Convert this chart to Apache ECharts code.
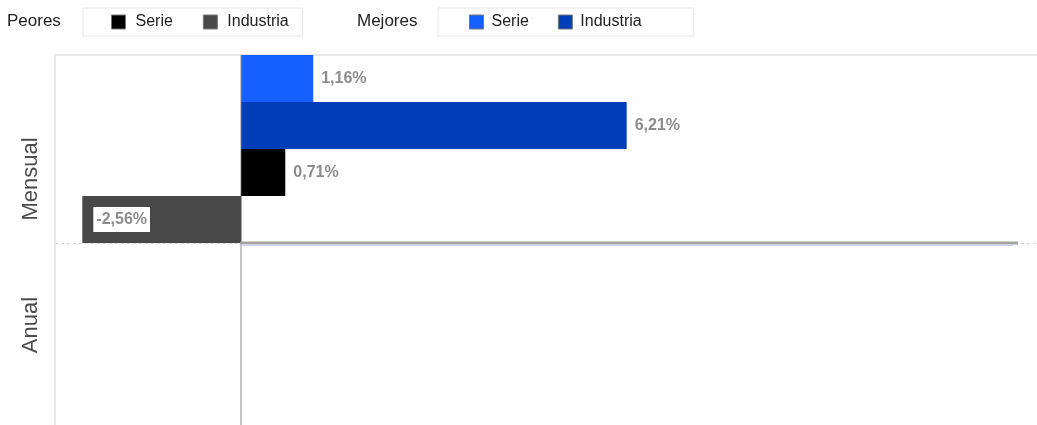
<!DOCTYPE html>
<html>
<head>
<meta charset="utf-8">
<script src="https://cdn.jsdelivr.net/npm/echarts@6/dist/echarts.min.js"></script>
<style>
  html, body { margin: 0; padding: 0; background: #fff; overflow: hidden; }
  #chart { width: 1037px; height: 440px; }
</style>
</head>
<body>
<div id="chart"></div>
<script>
// ---- data ----
const categories = ['Mensual', 'Anual'];
const mejoresSerie = [1.16, null];
const mejoresIndustria = [6.21, null];
const peoresSerie = [0.71, null];
const peoresIndustria = [-2.56, null];
const seriesNames = ['Mejores Serie', 'Mejores Industria', 'Peores Serie', 'Peores Industria'];
const groupTitles = ['Peores', 'Mejores'];

const FONT = '"Liberation Sans", Arial, sans-serif';
const colors = {
  'Mejores Serie': '#1560ff',
  'Mejores Industria': '#003db8',
  'Peores Serie': '#000000',
  'Peores Industria': '#484848'
};
const fmt = p => p.value.toFixed(2).replace('.', ',') + '%';

const chart = echarts.init(document.getElementById('chart'), null, { renderer: 'canvas' });

function barSeries(name, data) {
  return {
    name: name,
    type: 'bar',
    data: data,
    barGap: '0%',
    barCategoryGap: '0%',
    itemStyle: { color: colors[name] },
    label: {
      show: true,
      position: 'right',
      distance: 8,
      formatter: fmt,
      fontFamily: FONT,
      fontSize: 16,
      fontWeight: 'bold',
      color: '#8c8c8c'
    },
    emphasis: { disabled: true }
  };
}

const sMejSerie = barSeries(seriesNames[0], mejoresSerie);
const sMejInd = barSeries(seriesNames[1], mejoresIndustria);
const sPeoSerie = barSeries(seriesNames[2], peoresSerie);
const sPeoInd = barSeries(seriesNames[3], peoresIndustria);
sPeoInd.label = Object.assign({}, sPeoInd.label, {
  position: 'insideLeft',
  distance: 11,
  backgroundColor: '#ffffff',
  padding: [5, 3, 4, 3]
});
// zero line
sMejSerie.markLine = {
  silent: true,
  symbol: 'none',
  label: { show: false },
  lineStyle: { color: '#c4c4c4', type: 'solid', width: 2 },
  data: [{ xAxis: 0 }],
  z: 1
};

const legendCommon = {
  top: 8,
  orient: 'horizontal',
  itemWidth: 14,
  itemHeight: 14,
  icon: 'rect',
  borderColor: '#e6e6e6',
  borderWidth: 1,
  borderRadius: 0,
  itemStyle: { borderColor: '#777', borderWidth: 1 },
  formatter: n => n.split(' ')[1],
  selectedMode: false
};

chart.setOption({
  animation: false,
  backgroundColor: '#ffffff',
  title: [
    { text: groupTitles[0], left: 7, top: 13, padding: 0,
      textStyle: { fontFamily: FONT, fontSize: 17, fontWeight: 'normal', color: '#222' } },
    { text: groupTitles[1], left: 357, top: 13, padding: 0,
      textStyle: { fontFamily: FONT, fontSize: 17, fontWeight: 'normal', color: '#222' } }
  ],
  legend: [
    Object.assign({}, legendCommon, {
      left: 83, padding: [6, 14, 6, 28], itemGap: 30,
      textStyle: { fontFamily: FONT, fontSize: 16, color: '#222', padding: [0, 0, 0, 5] },
      data: [seriesNames[2], seriesNames[3]]
    }),
    Object.assign({}, legendCommon, {
      left: 438, padding: [6, 52, 6, 31], itemGap: 29,
      textStyle: { fontFamily: FONT, fontSize: 16, color: '#222', padding: [0, 0, 0, 3] },
      data: [seriesNames[0], seriesNames[1]]
    })
  ],
  grid: { left: 55, top: 55, right: 0, bottom: 9, containLabel: false },
  xAxis: {
    type: 'value',
    position: 'top',
    min: -3,
    max: 12.82,
    axisLine: { show: true, onZero: false, lineStyle: { color: '#e8e8e8', width: 2 } },
    axisTick: { show: false },
    axisLabel: { show: false },
    splitLine: { show: false }
  },
  yAxis: {
    type: 'category',
    inverse: true,
    data: [
      { value: categories[0], textStyle: { padding: [0, 60, 0, 0] } },
      { value: categories[1], textStyle: { padding: [0, 0, 0, 24] } }
    ],
    axisLine: { show: true, onZero: false, lineStyle: { color: '#e8e8e8', width: 2 } },
    axisTick: { show: false },
    axisLabel: { rotate: 90, margin: 13, fontFamily: FONT, fontSize: 22, color: '#4a4a4a' },
    splitLine: { show: true, lineStyle: { color: '#d6d6d6', type: [3, 3], width: 1 } }
  },
  series: [sMejSerie, sMejInd, sPeoSerie, sPeoInd]
});

// decorative baseline under the monthly group
const x0 = chart.convertToPixel({ xAxisIndex: 0 }, 0);
const yA = chart.convertToPixel({ yAxisIndex: 0 }, categories[0]);
const yB = chart.convertToPixel({ yAxisIndex: 0 }, categories[1]);
const yMid = (yA + yB) / 2;
const xEnd = 1037 - 19;
chart.setOption({
  graphic: [
    { type: 'line', silent: true, z: 100,
      shape: { x1: x0, y1: yMid + 2.5, x2: xEnd - 5, y2: yMid + 2.5 },
      style: { stroke: '#c9d5f2', lineWidth: 1 } },
    { type: 'line', silent: true, z: 101,
      shape: { x1: x0 - 1, y1: yMid, x2: xEnd, y2: yMid },
      style: { stroke: '#a3a3a3', lineWidth: 3 } }
  ]
});
</script>
</body>
</html>
